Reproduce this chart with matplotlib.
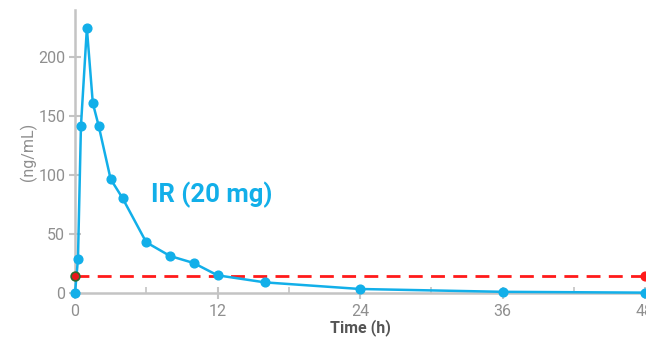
import matplotlib
matplotlib.use("Agg")
import matplotlib.pyplot as plt
from matplotlib.ticker import MultipleLocator

plt.rcParams['font.family'] = ['Roboto', 'DejaVu Sans']

time_h = [0, 0.25, 0.5, 1, 1.5, 2, 3, 4, 6, 8, 10, 12, 16, 24, 36, 48]
conc = [0, 28.8, 141.5, 224.6, 161, 141.5, 96.6, 80.5, 43, 31.4, 25.4, 15, 9, 3.4, 1.0, 0.3]
threshold_x = [0, 48]
threshold_y = [14.4, 14.4]
x_ticks = [0, 12, 24, 36, 48]
y_ticks = [0, 50, 100, 150, 200]
series_label = "IR (20 mg)"

blue = "#12afe9"
grey_spine = "#c4c4c4"
grey_text = "#8f8f8f"

fig = plt.figure(figsize=(6.46, 3.37), dpi=100)
ax = fig.add_axes([75/646, 44/337, 570/646, 283/337])
ax.set_xlim(0, 48)
ax.set_ylim(0, 240)

ax.plot(threshold_x, threshold_y, color="#ff1a1a", lw=2.0, dashes=(5, 3), zorder=2, clip_on=False)
ax.plot(time_h, conc, color=blue, lw=1.8, marker="o", ms=6.3, zorder=3, clip_on=False)
ax.plot(threshold_x[0], threshold_y[0], marker="o", ms=6.3, color="#e8161b", mec="#2f6a2f", mew=1.2, zorder=4, clip_on=False)
ax.plot(threshold_x[1], threshold_y[1], marker="o", ms=6.3, color="#ff1a1a", mec="#ff1a1a", zorder=4, clip_on=False)

for s in ["top", "right"]:
    ax.spines[s].set_visible(False)
for s in ["left", "bottom"]:
    ax.spines[s].set_color(grey_spine)
    ax.spines[s].set_linewidth(1.8)

ax.set_xticks(x_ticks)
ax.set_yticks(y_ticks)
ax.xaxis.set_minor_locator(MultipleLocator(6))
ax.tick_params(axis="both", which="major", direction="inout", length=8, width=1.5,
               color=grey_spine, labelcolor=grey_text, labelsize=11.5)
ax.tick_params(axis="x", which="major", pad=4)
ax.tick_params(axis="y", which="major", pad=3)
ax.tick_params(axis="x", which="minor", direction="in", length=4, width=1.2, color=grey_spine)

ax.set_xlabel("Time (h)", fontsize=11.5, fontweight="bold", color="#555555", labelpad=0)
ax.set_ylabel("(ng/mL)", fontsize=11.5, color=grey_text, labelpad=1)

ax.text(6.4, 83, series_label, color=blue, fontsize=18.5, fontweight="bold",
        ha="left", va="center")

fig.savefig("out.png", dpi=100)
